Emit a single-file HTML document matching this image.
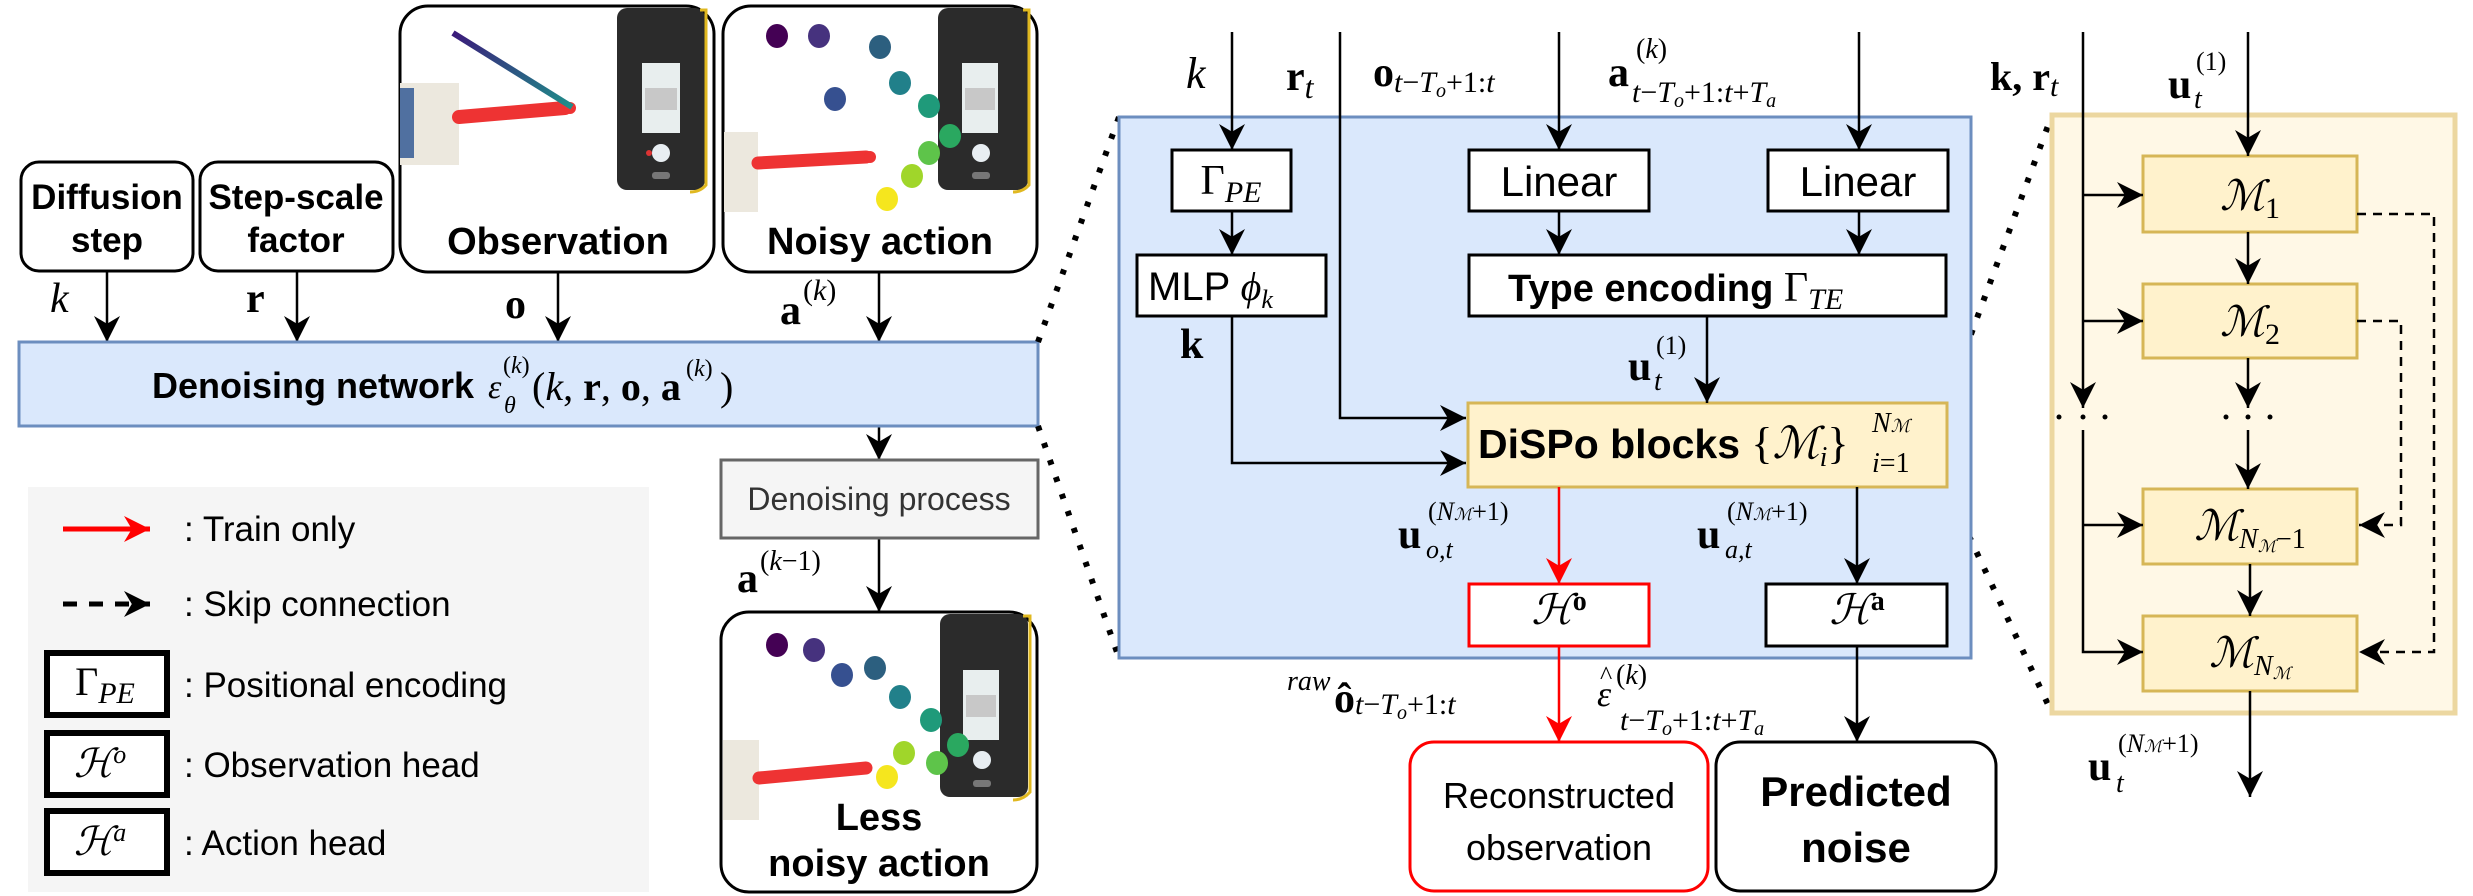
<!DOCTYPE html>
<html><head><meta charset="utf-8"><style>
html,body{margin:0;padding:0;background:#fff;}
svg{display:block;}
.s{font-family:"Liberation Sans",sans-serif;}
.m{font-family:"Liberation Serif",serif;}
</style></head><body>
<svg width="2473" height="896" viewBox="0 0 2473 896" xmlns="http://www.w3.org/2000/svg">
<defs>
<marker id="ab2" markerWidth="26" markerHeight="26" refX="10" refY="5" orient="auto" markerUnits="userSpaceOnUse" viewBox="0 0 10 10"><path d="M0,0 L10,5 L0,10 L3,5 z" fill="#000"/></marker>
<marker id="ar" markerWidth="26" markerHeight="26" refX="10" refY="5" orient="auto" markerUnits="userSpaceOnUse" viewBox="0 0 10 10"><path d="M0,0 L10,5 L0,10 L3,5 z" fill="#f00"/></marker>
<linearGradient id="gs" x1="0" y1="0" x2="1" y2="1"><stop offset="0" stop-color="#3b1a7a"/><stop offset="1" stop-color="#1f8f8a"/></linearGradient>
</defs>

<g stroke="#000" stroke-width="3" fill="#fff">
<rect x="21" y="162" width="172" height="109" rx="18"/>
<rect x="200" y="162" width="193" height="109" rx="18"/>
<rect x="400" y="6" width="314" height="266" rx="28"/>
<rect x="723" y="6" width="314" height="266" rx="28"/>
</g>
<g>
<rect x="617" y="8" width="88" height="182" rx="10" fill="#2b2b2b"/>
<path d="M700,10 L706,10 L706,185 Q700,192 690,192" fill="none" stroke="#e0b820" stroke-width="3"/>
<rect x="642" y="63" width="38" height="70" fill="#e8eeee"/>
<rect x="645" y="88" width="32" height="22" fill="#c8c8c8"/>
<circle cx="661" cy="153" r="9" fill="#e8eef2"/>
<circle cx="649" cy="153" r="3" fill="#d33"/>
<rect x="652" y="172" width="18" height="7" rx="3" fill="#777"/>
<rect x="400" y="83" width="59" height="82" fill="#ece8de"/>
<rect x="400" y="88" width="14" height="70" fill="#5070a0"/>
<line x1="459" y1="117" x2="565" y2="108" stroke="#e33" stroke-width="14" stroke-linecap="round"/>
<circle cx="570" cy="108" r="6" fill="#e33"/>
<line x1="453" y1="33" x2="572" y2="107" stroke="url(#gs)" stroke-width="6"/>
</g>
<g>
<rect x="938" y="8" width="90" height="182" rx="10" fill="#2b2b2b"/>
<path d="M1023,10 L1029,10 L1029,185 Q1023,192 1013,192" fill="none" stroke="#e0b820" stroke-width="3"/>
<rect x="962" y="63" width="36" height="70" fill="#e8eeee"/>
<rect x="965" y="88" width="30" height="22" fill="#c8c8c8"/>
<circle cx="981" cy="153" r="9" fill="#e8eef2"/>
<rect x="972" y="172" width="18" height="7" rx="3" fill="#777"/>
<rect x="724" y="132" width="34" height="80" fill="#ece8de"/>
<line x1="758" y1="163" x2="866" y2="157" stroke="#e33" stroke-width="13" stroke-linecap="round"/>
<circle cx="870" cy="157" r="6" fill="#e33"/>
<ellipse cx="777" cy="36" rx="11" ry="12" fill="#440154"/>
<ellipse cx="819" cy="36" rx="11" ry="12" fill="#46327e"/>
<ellipse cx="880" cy="47" rx="11" ry="12" fill="#2c5f7f"/>
<ellipse cx="835" cy="99" rx="11" ry="12" fill="#365090"/>
<ellipse cx="900" cy="83" rx="11" ry="12" fill="#21808a"/>
<ellipse cx="929" cy="106" rx="11" ry="12" fill="#1f9a7a"/>
<ellipse cx="950" cy="136" rx="11" ry="12" fill="#2aa860"/>
<ellipse cx="929" cy="153" rx="11" ry="12" fill="#5ec44a"/>
<ellipse cx="912" cy="176" rx="11" ry="12" fill="#a0d62a"/>
<ellipse cx="887" cy="199" rx="11" ry="12" fill="#f5e61e"/>
</g>
<g class="s" font-weight="bold" font-size="35" text-anchor="middle" fill="#000">
<text x="107" y="209">Diffusion</text><text x="107" y="252">step</text>
<text x="296" y="209">Step-scale</text><text x="296" y="252">factor</text>
<text x="558" y="254" font-size="38">Observation</text>
<text x="880" y="254" font-size="38">Noisy action</text>
</g>
<g stroke="#000" stroke-width="2.5" fill="none" marker-end="url(#ab2)">
<line x1="107" y1="271" x2="107" y2="342"/>
<line x1="297" y1="271" x2="297" y2="342"/>
<line x1="558" y1="272" x2="558" y2="342"/>
<line x1="879" y1="272" x2="879" y2="342"/>
<line x1="879" y1="426" x2="879" y2="460"/>
<line x1="879" y1="538" x2="879" y2="612"/>
</g>
<g class="m" font-size="42" fill="#000">
<text x="50" y="312" font-style="italic">k</text>
<text x="246" y="312" font-weight="bold">r</text>
<text x="505" y="318" font-weight="bold">o</text>
<text x="780" y="324" font-weight="bold">a</text>
<text x="803" y="300" font-size="30">(<tspan font-style="italic">k</tspan>)</text>
</g>
<rect x="19" y="342" width="1019" height="84" fill="#dae8fc" stroke="#6c8ebf" stroke-width="3"/>
<text x="152" y="398" class="s" font-weight="bold" font-size="36">Denoising network</text>
<g class="m" fill="#000">
<text x="488" y="398" font-size="34" font-style="italic">ε</text>
<text x="503" y="373" font-size="24">(<tspan font-style="italic">k</tspan>)</text>
<text x="504" y="413" font-size="24" font-style="italic">θ</text>
<text x="532" y="400" font-size="40">(<tspan font-style="italic">k</tspan>, <tspan font-weight="bold">r</tspan>, <tspan font-weight="bold">o</tspan>, <tspan font-weight="bold">a</tspan></text>
<text x="686" y="376" font-size="24">(<tspan font-style="italic">k</tspan>)</text>
<text x="720" y="400" font-size="40">)</text>
</g>
<rect x="721" y="460" width="317" height="78" fill="#f5f5f5" stroke="#666" stroke-width="3"/>
<text x="879" y="510" class="s" font-size="32" text-anchor="middle" fill="#333">Denoising process</text>
<g class="m" fill="#000">
<text x="737" y="592" font-size="42" font-weight="bold">a</text>
<text x="760" y="570" font-size="28">(<tspan font-style="italic">k</tspan>−1)</text>
</g>
<rect x="721" y="612" width="316" height="280" rx="28" fill="#fff" stroke="#000" stroke-width="3"/>
<g>
<rect x="940" y="614" width="88" height="183" rx="10" fill="#2b2b2b"/>
<path d="M1023,616 L1030,616 L1030,792 Q1023,800 1013,800" fill="none" stroke="#e0b820" stroke-width="3"/>
<rect x="963" y="670" width="36" height="70" fill="#e8eeee"/>
<rect x="966" y="695" width="30" height="22" fill="#c8c8c8"/>
<circle cx="982" cy="760" r="9" fill="#e8eef2"/>
<rect x="973" y="780" width="18" height="7" rx="3" fill="#777"/>
<rect x="723" y="740" width="36" height="80" fill="#ece8de"/>
<line x1="759" y1="778" x2="866" y2="768" stroke="#e33" stroke-width="13" stroke-linecap="round"/>
<ellipse cx="777" cy="645" rx="11" ry="12" fill="#440154"/>
<ellipse cx="814" cy="650" rx="11" ry="12" fill="#46327e"/>
<ellipse cx="842" cy="675" rx="11" ry="12" fill="#365090"/>
<ellipse cx="875" cy="668" rx="11" ry="12" fill="#2c5f7f"/>
<ellipse cx="900" cy="697" rx="11" ry="12" fill="#21808a"/>
<ellipse cx="931" cy="720" rx="11" ry="12" fill="#1f9a7a"/>
<ellipse cx="958" cy="745" rx="11" ry="12" fill="#2aa860"/>
<ellipse cx="904" cy="753" rx="11" ry="12" fill="#a0d62a"/>
<ellipse cx="937" cy="763" rx="11" ry="12" fill="#5ec44a"/>
<ellipse cx="887" cy="777" rx="11" ry="12" fill="#f5e61e"/>
</g>
<g class="s" font-weight="bold" font-size="38" text-anchor="middle">
<text x="879" y="830">Less</text><text x="879" y="876">noisy action</text>
</g>
<rect x="28" y="487" width="621" height="405" fill="#f5f5f5"/>
<line x1="63" y1="529" x2="150" y2="529" stroke="#f00" stroke-width="5" marker-end="url(#ar)"/>
<line x1="63" y1="604" x2="150" y2="604" stroke="#000" stroke-width="5" stroke-dasharray="14,12" marker-end="url(#ab2)"/>
<g fill="#fff" stroke="#000" stroke-width="6">
<rect x="47" y="653" width="120" height="62"/>
<rect x="47" y="733" width="120" height="62"/>
<rect x="47" y="811" width="120" height="62"/>
</g>
<g class="m" font-size="40" text-anchor="middle">
<text x="105" y="695">Γ<tspan font-size="30" font-style="italic" dy="8">PE</tspan></text>
<text x="100" y="777" font-style="italic">ℋ<tspan font-size="26" dy="-14">o</tspan></text>
<text x="100" y="855" font-style="italic">ℋ<tspan font-size="26" dy="-14">a</tspan></text>
</g>
<g class="s" font-size="35">
<text x="184" y="541">: Train only</text>
<text x="184" y="616">: Skip connection</text>
<text x="184" y="697">: Positional encoding</text>
<text x="184" y="777">: Observation head</text>
<text x="184" y="855">: Action head</text>
</g>
<g stroke="#000" stroke-width="6" stroke-dasharray="5,13" fill="none">
<line x1="1038" y1="342" x2="1119" y2="117"/>
<line x1="1038" y1="426" x2="1119" y2="658"/>
<line x1="1946" y1="402" x2="2052" y2="115"/>
<line x1="1946" y1="487" x2="2052" y2="713"/>
</g>

<rect x="1119" y="117" width="852" height="541" fill="#dae8fc" stroke="#6c8ebf" stroke-width="3"/>
<g stroke="#000" stroke-width="3" fill="#fff">
<rect x="1172" y="150" width="119" height="61"/>
<rect x="1469" y="150" width="180" height="61"/>
<rect x="1768" y="150" width="180" height="61"/>
<rect x="1137" y="255" width="189" height="61"/>
<rect x="1469" y="255" width="477" height="61"/>
<rect x="1766" y="584" width="181" height="62"/>
</g>
<rect x="1469" y="584" width="180" height="62" fill="#fff" stroke="#f00" stroke-width="3"/>
<rect x="1468" y="403" width="479" height="84" fill="#fff2cc" stroke="#d6b656" stroke-width="3"/>
<g stroke="#000" stroke-width="2.5" fill="none" marker-end="url(#ab2)">
<line x1="1232" y1="32" x2="1232" y2="150"/>
<line x1="1559" y1="32" x2="1559" y2="150"/>
<line x1="1859" y1="32" x2="1859" y2="150"/>
<line x1="1232" y1="211" x2="1232" y2="255"/>
<line x1="1559" y1="211" x2="1559" y2="255"/>
<line x1="1859" y1="211" x2="1859" y2="255"/>
<line x1="1707" y1="316" x2="1707" y2="403"/>
<polyline points="1340,32 1340,418 1466,418"/>
<polyline points="1232,316 1232,463 1466,463"/>
<line x1="1857" y1="487" x2="1857" y2="584"/>
<line x1="1857" y1="646" x2="1857" y2="742"/>
</g>
<g stroke="#f00" stroke-width="2.5" fill="none" marker-end="url(#ar)">
<line x1="1559" y1="487" x2="1559" y2="584"/>
<line x1="1559" y1="646" x2="1559" y2="742"/>
</g>
<rect x="1410" y="742" width="298" height="149" rx="24" fill="#fff" stroke="#f00" stroke-width="3"/>
<rect x="1716" y="742" width="280" height="149" rx="24" fill="#fff" stroke="#000" stroke-width="3"/>
<g class="s" text-anchor="middle">
<text x="1231" y="194" class="m" font-size="42">Γ<tspan font-size="30" font-style="italic" dy="8">PE</tspan></text>
<text x="1559" y="196" font-size="42">Linear</text>
<text x="1858" y="196" font-size="42">Linear</text>
<text x="1559" y="808" font-size="36">Reconstructed</text>
<text x="1559" y="860" font-size="36">observation</text>
<text x="1856" y="806" font-size="42" font-weight="bold">Predicted</text>
<text x="1856" y="862" font-size="42" font-weight="bold">noise</text>
</g>
<text x="1148" y="300" class="s" font-size="40">MLP <tspan class="m" font-style="italic">ϕ</tspan><tspan class="m" font-size="26" font-style="italic" dy="8">k</tspan></text>
<text x="1508" y="301" class="s" font-size="38" font-weight="bold">Type encoding <tspan class="m" font-weight="normal" font-size="42">Γ</tspan><tspan class="m" font-weight="normal" font-style="italic" font-size="30" dy="8">TE</tspan></text>
<text x="1478" y="458" class="s" font-size="41" font-weight="bold">DiSPo blocks <tspan class="m" font-weight="normal" font-size="44">{<tspan font-style="italic">ℳ</tspan><tspan font-size="28" font-style="italic" dy="8">i</tspan><tspan dy="-8">}</tspan></tspan></text>
<text x="1872" y="432" class="m" font-size="28" font-style="italic">N<tspan font-size="18">ℳ</tspan></text>
<text x="1872" y="472" class="m" font-size="28"><tspan font-style="italic">i</tspan>=1</text>
<g class="m" text-anchor="middle" font-size="42">
<text x="1559" y="624" font-style="italic">ℋ<tspan font-size="28" font-style="normal" font-weight="bold" dy="-14">o</tspan></text>
<text x="1857" y="624" font-style="italic">ℋ<tspan font-size="28" font-style="normal" font-weight="bold" dy="-14">a</tspan></text>
</g>
<g class="m" fill="#000">
<text x="1186" y="88" font-size="44" font-style="italic">k</text>
<text x="1286" y="90" font-size="42" font-weight="bold">r<tspan font-size="32" font-weight="normal" font-style="italic" dy="8">t</tspan></text>
<text x="1373" y="86" font-size="42" font-weight="bold">o<tspan font-size="30" font-weight="normal" font-style="italic" dy="6">t</tspan><tspan font-size="30" font-weight="normal">−</tspan><tspan font-size="30" font-weight="normal" font-style="italic">T</tspan><tspan font-size="20" font-weight="normal" font-style="italic" dy="5">o</tspan><tspan font-size="30" font-weight="normal" dy="-5">+1:</tspan><tspan font-size="30" font-weight="normal" font-style="italic">t</tspan></text>
<text x="1608" y="86" font-size="42" font-weight="bold">a</text>
<text x="1636" y="58" font-size="28">(<tspan font-style="italic">k</tspan>)</text>
<text x="1632" y="102" font-size="30"><tspan font-style="italic">t</tspan>−<tspan font-style="italic">T</tspan><tspan font-size="20" font-style="italic" dy="5">o</tspan><tspan dy="-5">+1:</tspan><tspan font-style="italic">t</tspan>+<tspan font-style="italic">T</tspan><tspan font-size="20" font-style="italic" dy="5">a</tspan></text>
<text x="1180" y="358" font-size="42" font-weight="bold">k</text>
<text x="1628" y="380" font-size="42" font-weight="bold">u</text>
<text x="1656" y="354" font-size="26">(1)</text>
<text x="1654" y="390" font-size="28" font-style="italic">t</text>
<text x="1398" y="548" font-size="42" font-weight="bold">u</text>
<text x="1428" y="520" font-size="26">(<tspan font-style="italic">N</tspan><tspan font-size="17" font-style="italic">ℳ</tspan>+1)</text>
<text x="1426" y="558" font-size="26" font-style="italic">o,t</text>
<text x="1697" y="548" font-size="42" font-weight="bold">u</text>
<text x="1727" y="520" font-size="26">(<tspan font-style="italic">N</tspan><tspan font-size="17" font-style="italic">ℳ</tspan>+1)</text>
<text x="1725" y="558" font-size="26" font-style="italic">a,t</text>
<text x="1287" y="690" font-size="28" font-style="italic">raw</text>
<text x="1334" y="712" font-size="42" font-weight="bold">ô<tspan font-size="30" font-weight="normal" font-style="italic" dy="2">t</tspan><tspan font-size="30" font-weight="normal">−</tspan><tspan font-size="30" font-weight="normal" font-style="italic">T</tspan><tspan font-size="20" font-weight="normal" font-style="italic" dy="5">o</tspan><tspan font-size="30" font-weight="normal" dy="-5">+1:</tspan><tspan font-size="30" font-weight="normal" font-style="italic">t</tspan></text>
<text x="1597" y="706" font-size="36" font-style="italic">ε</text>
<text x="1600" y="684" font-size="26">^</text>
<text x="1616" y="684" font-size="28">(<tspan font-style="italic">k</tspan>)</text>
<text x="1620" y="730" font-size="30"><tspan font-style="italic">t</tspan>−<tspan font-style="italic">T</tspan><tspan font-size="20" font-style="italic" dy="5">o</tspan><tspan dy="-5">+1:</tspan><tspan font-style="italic">t</tspan>+<tspan font-style="italic">T</tspan><tspan font-size="20" font-style="italic" dy="5">a</tspan></text>
</g>

<rect x="2052" y="115" width="403" height="598" fill="#fff8e6" stroke="#ecd7a0" stroke-width="5"/>
<g fill="#fff2cc" stroke="#d6b656" stroke-width="3">
<rect x="2143" y="156" width="214" height="76"/>
<rect x="2143" y="284" width="214" height="74"/>
<rect x="2143" y="489" width="214" height="75"/>
<rect x="2143" y="616" width="214" height="75"/>
</g>
<g stroke="#000" stroke-width="2.5" fill="none" marker-end="url(#ab2)">
<line x1="2083" y1="32" x2="2083" y2="408"/>
<line x1="2248" y1="32" x2="2248" y2="156"/>
<line x1="2083" y1="195" x2="2143" y2="195"/>
<line x1="2083" y1="321" x2="2143" y2="321"/>
<line x1="2248" y1="232" x2="2248" y2="284"/>
<line x1="2248" y1="358" x2="2248" y2="408"/>
<line x1="2248" y1="430" x2="2248" y2="489"/>
<polyline points="2083,430 2083,652 2143,652"/>
<line x1="2083" y1="525" x2="2143" y2="525"/>
<line x1="2250" y1="564" x2="2250" y2="616"/>
<line x1="2250" y1="691" x2="2250" y2="797"/>
</g>
<g stroke="#000" stroke-width="2.5" fill="none" stroke-dasharray="9,7" marker-end="url(#ab2)">
<polyline points="2357,214 2434,214 2434,652 2359,652"/>
<polyline points="2357,321 2401,321 2401,525 2359,525"/>
</g>
<g fill="#000">
<circle cx="2059" cy="417" r="2.5"/><circle cx="2083" cy="417" r="2.5"/><circle cx="2105" cy="417" r="2.5"/>
<circle cx="2226" cy="417" r="2.5"/><circle cx="2248" cy="417" r="2.5"/><circle cx="2270" cy="417" r="2.5"/>
</g>
<g class="m" text-anchor="middle" font-size="42">
<text x="2250" y="210" font-style="italic">ℳ<tspan font-style="normal" font-size="30" dy="8">1</tspan></text>
<text x="2250" y="336" font-style="italic">ℳ<tspan font-style="normal" font-size="30" dy="8">2</tspan></text>
<text x="2250" y="540" font-style="italic">ℳ<tspan font-size="28" dy="8">N</tspan><tspan font-size="17" dy="4">ℳ</tspan><tspan font-style="normal" font-size="28" dy="-4">−1</tspan></text>
<text x="2250" y="667" font-style="italic">ℳ<tspan font-size="28" dy="8">N</tspan><tspan font-size="17" dy="4">ℳ</tspan></text>
</g>
<g class="m" fill="#000">
<text x="1990" y="90" font-size="40" font-weight="bold">k, r<tspan font-size="30" font-weight="normal" font-style="italic" dy="6">t</tspan></text>
<text x="2168" y="98" font-size="42" font-weight="bold">u</text>
<text x="2196" y="70" font-size="26">(1)</text>
<text x="2194" y="108" font-size="28" font-style="italic">t</text>
<text x="2088" y="780" font-size="42" font-weight="bold">u</text>
<text x="2118" y="752" font-size="26">(<tspan font-style="italic">N</tspan><tspan font-size="17" font-style="italic">ℳ</tspan>+1)</text>
<text x="2116" y="792" font-size="28" font-style="italic">t</text>
</g>
</svg>
</body></html>
